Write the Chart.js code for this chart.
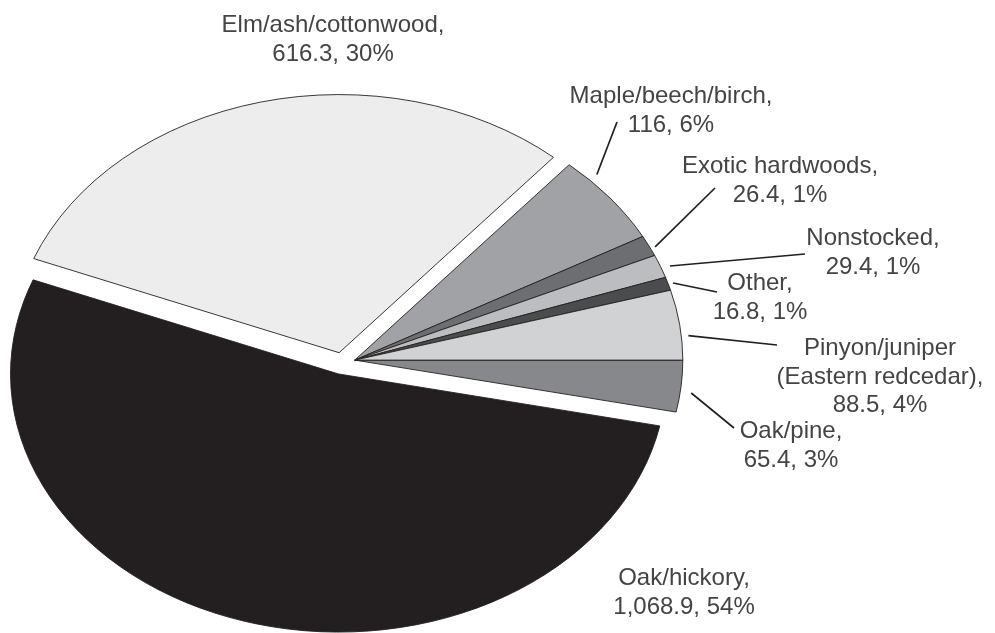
<!DOCTYPE html>
<html>
<head>
<meta charset="utf-8">
<script src="https://cdn.jsdelivr.net/npm/chart.js@4.4.1/dist/chart.umd.min.js"></script>
<style>
  html, body { margin: 0; padding: 0; background: #fff; }
  #wrap { width: 995px; height: 633px; }
</style>
</head>
<body>
<div id="wrap"><canvas id="pieChart" width="995" height="633"></canvas></div>
<script>
// clockwise from 3 o'clock
const categories = [
    ['Oak/pine,'],
    ['Oak/hickory,'],
    ['Elm/ash/cottonwood,'],
    ['Maple/beech/birch,'],
    ['Exotic hardwoods,'],
    ['Nonstocked,'],
    ['Other,'],
    ['Pinyon/juniper', '(Eastern redcedar),']
];
const values = [65.4, 1068.9, 616.3, 116, 26.4, 29.4, 16.8, 88.5];
const percents = [3, 54, 30, 6, 1, 1, 1, 4];

const colors = ['#87888b', '#231f20', '#ededee', '#a1a2a5', '#6d6e71', '#bcbdc0', '#4b4c4e', '#d1d2d4'];
const explodeGroup = ['small', 'oakhickory', 'elm', 'small', 'small', 'small', 'small', 'small'];
const explodeDist = { small: 13, oakhickory: 14, elm: 14 };

// label placement: centre x, first baseline y
const labelPos = [
    [791, 438], [684, 585], [333, 32], [671, 103],
    [780, 173], [873, 245], [760, 290], [880, 355]
];
// leader line: where along the slice (0..1), gap past the rim, end point
const leaderAt = [0.61, null, null, 0.24, 0.64, 0.6, 0.53, 0.66];
const leaderGap = [11, 0, 0, 10, 5, 9, 5, 7];
const leaderEnd = [[734, 428], null, null, [617, 122], [715, 188], [805, 254], [717, 292], [777, 345]];

const pieCenter = [342.5, 363.4];
const tilt = 0.787;
const lineH = 28.5;

function groupOffsets(arcs) {
    const dir = {};
    arcs.forEach((arc, i) => {
        const g = explodeGroup[i];
        if (!dir[g]) dir[g] = [0, 0];
        dir[g][0] += Math.sin(arc.endAngle) - Math.sin(arc.startAngle);
        dir[g][1] += Math.cos(arc.startAngle) - Math.cos(arc.endAngle);
    });
    return arcs.map((arc, i) => {
        const g = explodeGroup[i];
        const len = Math.hypot(dir[g][0], dir[g][1]);
        return [dir[g][0] / len * explodeDist[g], dir[g][1] / len * explodeDist[g]];
    });
}

const tiltedPie = {
    id: 'tiltedPie',
    beforeDatasetsDraw(chart) {
        const ctx = chart.ctx;
        const arcs = chart.getDatasetMeta(0).data;
        const offs = groupOffsets(arcs);
        const cx = arcs[0].x, cy = arcs[0].y;
        ctx.save();
        ctx.translate(pieCenter[0], pieCenter[1]);
        ctx.scale(1, tilt);
        ctx.translate(-cx, -cy);
        arcs.forEach((arc, i) => {
            ctx.save();
            ctx.translate(offs[i][0], offs[i][1]);
            arc.draw(ctx);
            ctx.restore();
        });
        ctx.restore();
        return false;
    },
    afterDraw(chart) {
        const ctx = chart.ctx;
        const arcs = chart.getDatasetMeta(0).data;
        const offs = groupOffsets(arcs);

        ctx.save();
        ctx.strokeStyle = '#231f20';
        ctx.lineWidth = 1.7;
        arcs.forEach((arc, i) => {
            if (leaderAt[i] === null) return;
            const a = arc.startAngle + leaderAt[i] * (arc.endAngle - arc.startAngle);
            const r = arc.outerRadius + leaderGap[i];
            const px = offs[i][0] + r * Math.cos(a);
            const py = offs[i][1] + r * Math.sin(a);
            ctx.beginPath();
            ctx.moveTo(pieCenter[0] + px, pieCenter[1] + py * tilt);
            ctx.lineTo(leaderEnd[i][0], leaderEnd[i][1]);
            ctx.stroke();
        });

        ctx.fillStyle = '#444';
        ctx.font = '24px "Liberation Sans", Arial, sans-serif';
        ctx.textAlign = 'center';
        ctx.textBaseline = 'alphabetic';
        categories.forEach((name, i) => {
            const lines = name.concat([values[i].toLocaleString('en-US') + ', ' + percents[i] + '%']);
            lines.forEach((t, j) => {
                ctx.fillText(t, labelPos[i][0], labelPos[i][1] + j * lineH);
            });
        });
        ctx.restore();
    }
};

const ctx = document.getElementById('pieChart').getContext('2d');
const pieChart = new Chart(ctx, {
    type: 'pie',
    data: {
        labels: categories.map(c => c.join(' ')),
        datasets: [{
            data: values,
            backgroundColor: colors,
            borderColor: '#231f20',
            borderWidth: 1,
            borderJoinStyle: 'miter',
            clip: false
        }]
    },
    options: {
        responsive: false,
        animation: false,
        rotation: 90,
        radius: 328,
        plugins: {
            legend: { display: false },
            tooltip: { enabled: false }
        }
    },
    plugins: [tiltedPie]
});
</script>
</body>
</html>
